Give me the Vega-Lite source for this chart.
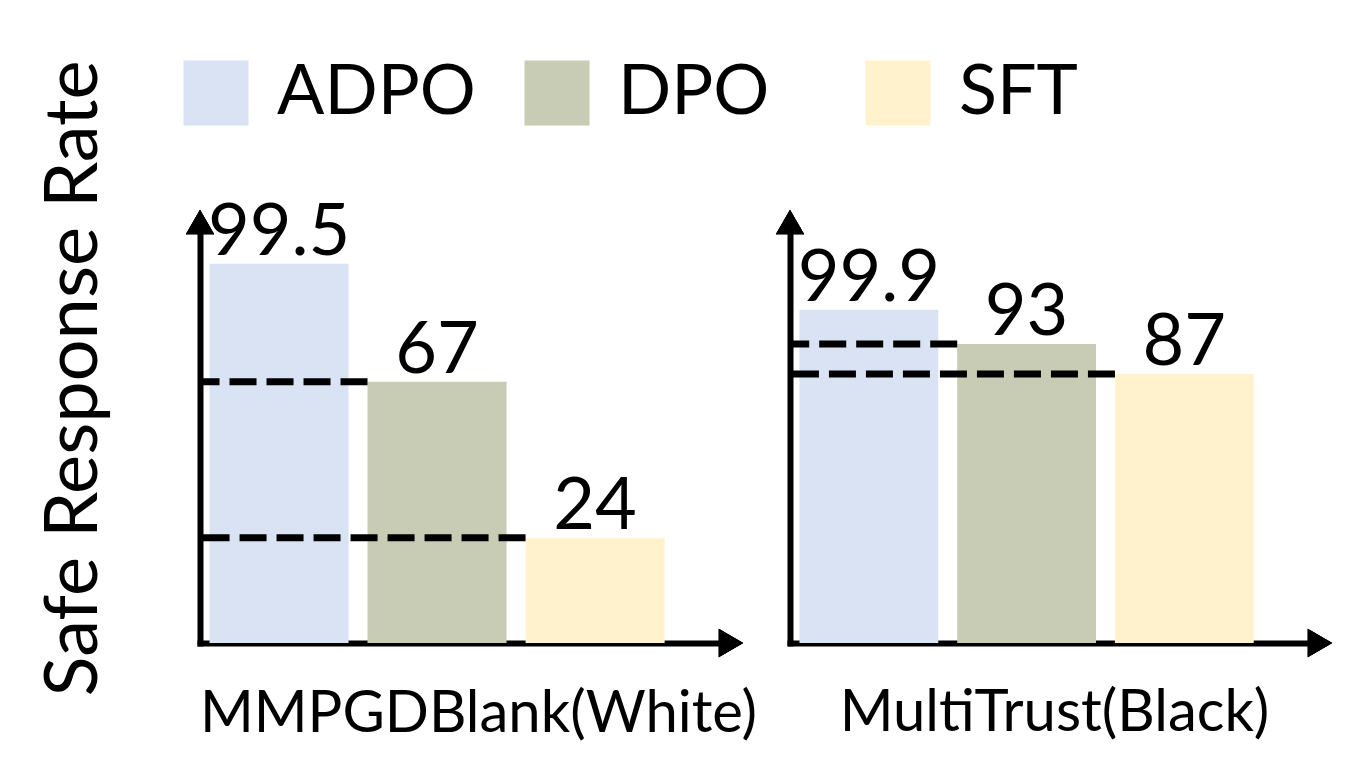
{
  "$schema": "https://vega.github.io/schema/vega-lite/v6.json",
  "background": "white",
  "padding": {"left": 36, "top": 58, "right": 5, "bottom": 5},
  "bounds": "flush",
  "spacing": 59,
  "config": {
    "font": "Lato",
    "view": {"stroke": null},
    "axis": {"grid": false, "labels": false, "ticks": false, "domainWidth": 6, "domainColor": "black", "domainCap": "square", "titleFontWeight": "normal", "titleColor": "black", "zindex": 1, "titleBaseline": "alphabetic"}
  },
  "data": {
    "values": [
      {"benchmark": "MMPGDBlank(White)", "method": "ADPO", "rate": 99.5},
      {"benchmark": "MMPGDBlank(White)", "method": "DPO", "rate": 67},
      {"benchmark": "MMPGDBlank(White)", "method": "SFT", "rate": 24},
      {"benchmark": "MultiTrust(Black)", "method": "ADPO", "rate": 99.9},
      {"benchmark": "MultiTrust(Black)", "method": "DPO", "rate": 93},
      {"benchmark": "MultiTrust(Black)", "method": "SFT", "rate": 87}
    ]
  },
  "hconcat": [
    {
      "width": 531,
      "height": 421,
      "transform": [{"filter": "datum.benchmark === 'MMPGDBlank(White)'"}],
      "encoding": {
        "x": {"field": "method", "type": "nominal", "sort": null,
          "scale": {"domain": ["ADPO", "DPO", "SFT"], "paddingInner": 0, "paddingOuter": 0.18, "align": 0},
          "axis": {"title": "MMPGDBlank(White)", "titleFontSize": 58, "titleX": 278, "titleY": 88}},
        "y": {"field": "rate", "type": "quantitative",
          "scale": {"domain": [-5, 111], "nice": false, "zero": false},
          "axis": {"title": "Safe Response Rate", "titleFontSize": 74, "titleX": -104, "titleY": 156, "titleAngle": 270, "titleAlign": "center"}}
      },
      "layer": [
        {
          "mark": {"type": "bar", "width": {"band": 0.88}},
          "encoding": {
            "y2": {"datum": -5},
            "color": {"field": "method", "type": "nominal",
              "scale": {"domain": ["ADPO", "DPO", "SFT"], "range": ["#DAE3F3", "#C9CCB4", "#FFF2CC"]},
              "legend": {"title": null, "orient": "none", "legendX": -19, "legendY": -164, "direction": "horizontal", "columns": 3, "gridAlign": "all", "columnPadding": 46, "symbolType": "square", "symbolSize": 4225, "symbolStrokeWidth": 0, "symbolOpacity": 1, "labelFontSize": 70, "labelOffset": 26, "labelColor": "black", "labelLimit": 400, "padding": 0}}
          }
        },
        {
          "transform": [{"filter": "datum.method !== 'ADPO'"}],
          "mark": {"type": "rule", "color": "black", "strokeWidth": 7, "strokeDash": [27, 10]},
          "encoding": {
            "x": {"field": "method", "type": "nominal", "bandPosition": 0.06},
            "x2": {"datum": "ADPO", "bandPosition": 0}
          }
        },
        {
          "mark": {"type": "text", "fontSize": 72, "baseline": "alphabetic", "dy": -9, "color": "black"},
          "encoding": {"text": {"field": "rate", "type": "quantitative"}}
        },
        {
          "mark": {"type": "point", "shape": "triangle-up", "filled": true, "color": "black", "opacity": 1, "size": 800},
          "encoding": {"x": {"datum": "ADPO", "bandPosition": 0}, "y": {"datum": 111}}
        },
        {
          "mark": {"type": "point", "shape": "triangle-right", "filled": true, "color": "black", "opacity": 1, "size": 800},
          "encoding": {"x": {"value": "width"}, "y": {"datum": -5}}
        }
      ]
    },
    {
      "width": 530,
      "height": 421,
      "transform": [{"filter": "datum.benchmark === 'MultiTrust(Black)'"}],
      "encoding": {
        "x": {"field": "method", "type": "nominal", "sort": null,
          "scale": {"domain": ["ADPO", "DPO", "SFT"], "paddingInner": 0, "paddingOuter": 0.18, "align": 0},
          "axis": {"title": "MultiTrust(Black)", "titleFontSize": 58, "titleX": 264, "titleY": 87}},
        "y": {"field": "rate", "type": "quantitative",
          "scale": {"domain": [33, 117.5], "nice": false, "zero": false},
          "axis": {"title": null}}
      },
      "layer": [
        {
          "mark": {"type": "bar", "width": {"band": 0.88}},
          "encoding": {
            "y2": {"datum": 33},
            "color": {"field": "method", "type": "nominal",
              "scale": {"domain": ["ADPO", "DPO", "SFT"], "range": ["#DAE3F3", "#C9CCB4", "#FFF2CC"]},
              "legend": {"title": null, "orient": "none", "legendX": -19, "legendY": -164, "direction": "horizontal", "columns": 3, "gridAlign": "all", "columnPadding": 46, "symbolType": "square", "symbolSize": 4225, "symbolStrokeWidth": 0, "symbolOpacity": 1, "labelFontSize": 70, "labelOffset": 26, "labelColor": "black", "labelLimit": 400, "padding": 0}}
          }
        },
        {
          "transform": [{"filter": "datum.method !== 'ADPO'"}],
          "mark": {"type": "rule", "color": "black", "strokeWidth": 7, "strokeDash": [27, 10]},
          "encoding": {
            "x": {"field": "method", "type": "nominal", "bandPosition": 0.06},
            "x2": {"datum": "ADPO", "bandPosition": 0}
          }
        },
        {
          "mark": {"type": "text", "fontSize": 72, "baseline": "alphabetic", "dy": -9, "color": "black"},
          "encoding": {"text": {"field": "rate", "type": "quantitative"}}
        },
        {
          "mark": {"type": "point", "shape": "triangle-up", "filled": true, "color": "black", "opacity": 1, "size": 800},
          "encoding": {"x": {"datum": "ADPO", "bandPosition": 0}, "y": {"datum": 117.5}}
        },
        {
          "mark": {"type": "point", "shape": "triangle-right", "filled": true, "color": "black", "opacity": 1, "size": 800},
          "encoding": {"x": {"value": "width"}, "y": {"datum": 33}}
        }
      ]
    }
  ]
}
